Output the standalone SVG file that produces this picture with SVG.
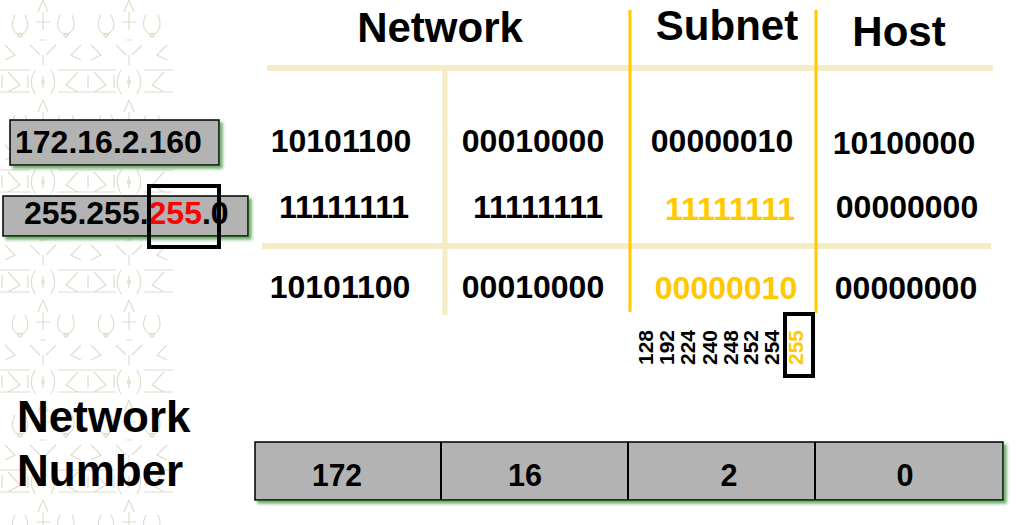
<svg xmlns="http://www.w3.org/2000/svg" width="1024" height="525" viewBox="0 0 1024 525">
<style>
  text { font-family: "Liberation Sans", Arial, sans-serif; font-weight: bold; fill: #000; }
  .hdr { font-size: 42px; text-anchor: middle; }
  .bin { font-size: 32px; text-anchor: middle; }
  .yel { fill: #FFC800; }
  .red { fill: #FF0000; }
  .big { font-size: 44px; }
  .ip { font-size: 32px; }
  .vn { font-size: 21px; }
  .cell { font-size: 32px; text-anchor: middle; }
  .beige { stroke: #F5EBC4; fill: none; }
  .gold { stroke: #FFC800; stroke-width: 3; fill: none; }
  .box { fill: #B3B3B3; stroke: #000; stroke-width: 1.5; }
  .frame { fill: none; stroke: #000; stroke-width: 4; }
  .tex { stroke: #E0DCCB; stroke-width: 1.2; fill: none; }
</style>
<defs>
  <filter id="gshadow" x="-5%" y="-20%" width="115%" height="160%">
    <feDropShadow dx="3" dy="3" stdDeviation="1.5" flood-color="#4E9A45" flood-opacity="0.8"/>
  </filter>
  <pattern id="texture" x="0" y="0" width="86" height="100" patternUnits="userSpaceOnUse">
    <path class="tex" d="M0 70 L30 70 M0 92 L30 92 M8 72 L20 85 L8 92 M2 75 L2 88 M28 75 L28 88"/>
    <path class="tex" d="M43 0 L38 12 M43 0 L48 12 M43 12 L43 30 M36 22 L50 22"/>
    <path class="tex" d="M15 15 C10 25 12 32 20 35 M25 15 C30 25 28 32 20 35"/>
    <path class="tex" d="M60 15 C55 25 58 32 66 35 M72 15 C76 25 74 32 66 35"/>
    <path class="tex" d="M30 45 L40 55 M56 45 L46 55 M43 55 L43 65 M40 40 L46 40"/>
    <path class="tex" d="M58 70 L86 70 M58 92 L86 92 M78 72 L66 85 L78 92"/>
    <path class="tex" d="M35 70 C30 78 30 86 35 94 M51 70 C56 78 56 86 51 94 M43 76 L43 88"/>
    <path class="tex" d="M5 45 L15 55 L5 60 M81 45 L71 55 L81 60"/>
    <circle class="tex" cx="43" cy="82" r="1.5"/>
    <circle class="tex" cx="20" cy="35" r="2"/>
    <circle class="tex" cx="66" cy="35" r="2"/>
  </pattern>
</defs>

<rect x="0" y="0" width="1024" height="525" fill="#FFFFFF"/>
<rect x="0" y="0" width="173" height="525" fill="url(#texture)"/>

<!-- connectors / grid lines -->
<g id="connectors">
  <line class="beige" x1="267" y1="68" x2="993" y2="68" stroke-width="6"/>
  <line class="beige" x1="262" y1="246" x2="991" y2="246" stroke-width="6"/>
  <line class="beige" x1="445" y1="71" x2="445" y2="315" stroke-width="5"/>
  <line class="gold" x1="630" y1="10" x2="630" y2="312"/>
  <line class="gold" x1="816" y1="10" x2="816" y2="313"/>
</g>

<!-- headers -->
<g id="header-network"><text class="hdr" x="440" y="42">Network</text></g>
<g id="header-subnet"><text class="hdr" x="727" y="40">Subnet</text></g>
<g id="header-host"><text class="hdr" x="899" y="46">Host</text></g>

<!-- binary rows -->
<g id="row-address">
  <text class="bin" x="341" y="152">10101100</text>
  <text class="bin" x="533" y="152">00010000</text>
  <text class="bin" x="722" y="152">00000010</text>
  <text class="bin" x="904" y="154">10100000</text>
</g>
<g id="row-mask">
  <text class="bin" x="344" y="218">11111111</text>
  <text class="bin" x="538" y="218">11111111</text>
  <text class="bin yel" x="730" y="220">11111111</text>
  <text class="bin" x="907" y="218">00000000</text>
</g>
<g id="row-result">
  <text class="bin" x="340" y="298">10101100</text>
  <text class="bin" x="533" y="298">00010000</text>
  <text class="bin yel" x="726" y="299">00000010</text>
  <text class="bin" x="906" y="299">00000000</text>
</g>

<!-- left IP boxes -->
<g id="ip-address">
  <rect class="box" x="10" y="120" width="209" height="45" filter="url(#gshadow)"/>
  <text class="ip" x="15" y="153">172.16.2.160</text>
</g>
<g id="subnet-mask">
  <rect class="box" x="3" y="196" width="245" height="40" filter="url(#gshadow)"/>
  <text class="ip" x="24" y="224">255.255.<tspan class="red">255</tspan>.0</text>
  <rect class="frame" x="149" y="186" width="70" height="61"/>
</g>

<!-- vertical mask values -->
<g id="mask-values">
  <text class="vn" transform="translate(653,365) rotate(-90)">128</text>
  <text class="vn" transform="translate(674,365) rotate(-90)">192</text>
  <text class="vn" transform="translate(695,365) rotate(-90)">224</text>
  <text class="vn" transform="translate(717,365) rotate(-90)">240</text>
  <text class="vn" transform="translate(738,365) rotate(-90)">248</text>
  <text class="vn" transform="translate(758,365) rotate(-90)">252</text>
  <text class="vn" transform="translate(779,365) rotate(-90)">254</text>
  <text class="vn yel" transform="translate(803,365) rotate(-90)">255</text>
  <rect class="frame" x="785" y="314" width="28" height="62"/>
</g>

<!-- network number label -->
<g id="label-network-number">
  <text class="big" x="17" y="432">Network</text>
  <text class="big" x="17" y="486">Number</text>
</g>

<!-- network number table -->
<g id="network-number">
  <rect class="box" x="255" y="442" width="748" height="58" stroke-width="2.5" filter="url(#gshadow)"/>
  <line x1="441" y1="442" x2="441" y2="500" stroke="#000" stroke-width="2"/>
  <line x1="628" y1="442" x2="628" y2="500" stroke="#000" stroke-width="2"/>
  <line x1="815" y1="442" x2="815" y2="500" stroke="#000" stroke-width="2"/>
  <text class="cell" x="337" y="486" textLength="50" lengthAdjust="spacingAndGlyphs">172</text>
  <text class="cell" x="525" y="486" textLength="34" lengthAdjust="spacingAndGlyphs">16</text>
  <text class="cell" x="729" y="486" textLength="17" lengthAdjust="spacingAndGlyphs">2</text>
  <text class="cell" x="905" y="486" textLength="17" lengthAdjust="spacingAndGlyphs">0</text>
</g>
</svg>
